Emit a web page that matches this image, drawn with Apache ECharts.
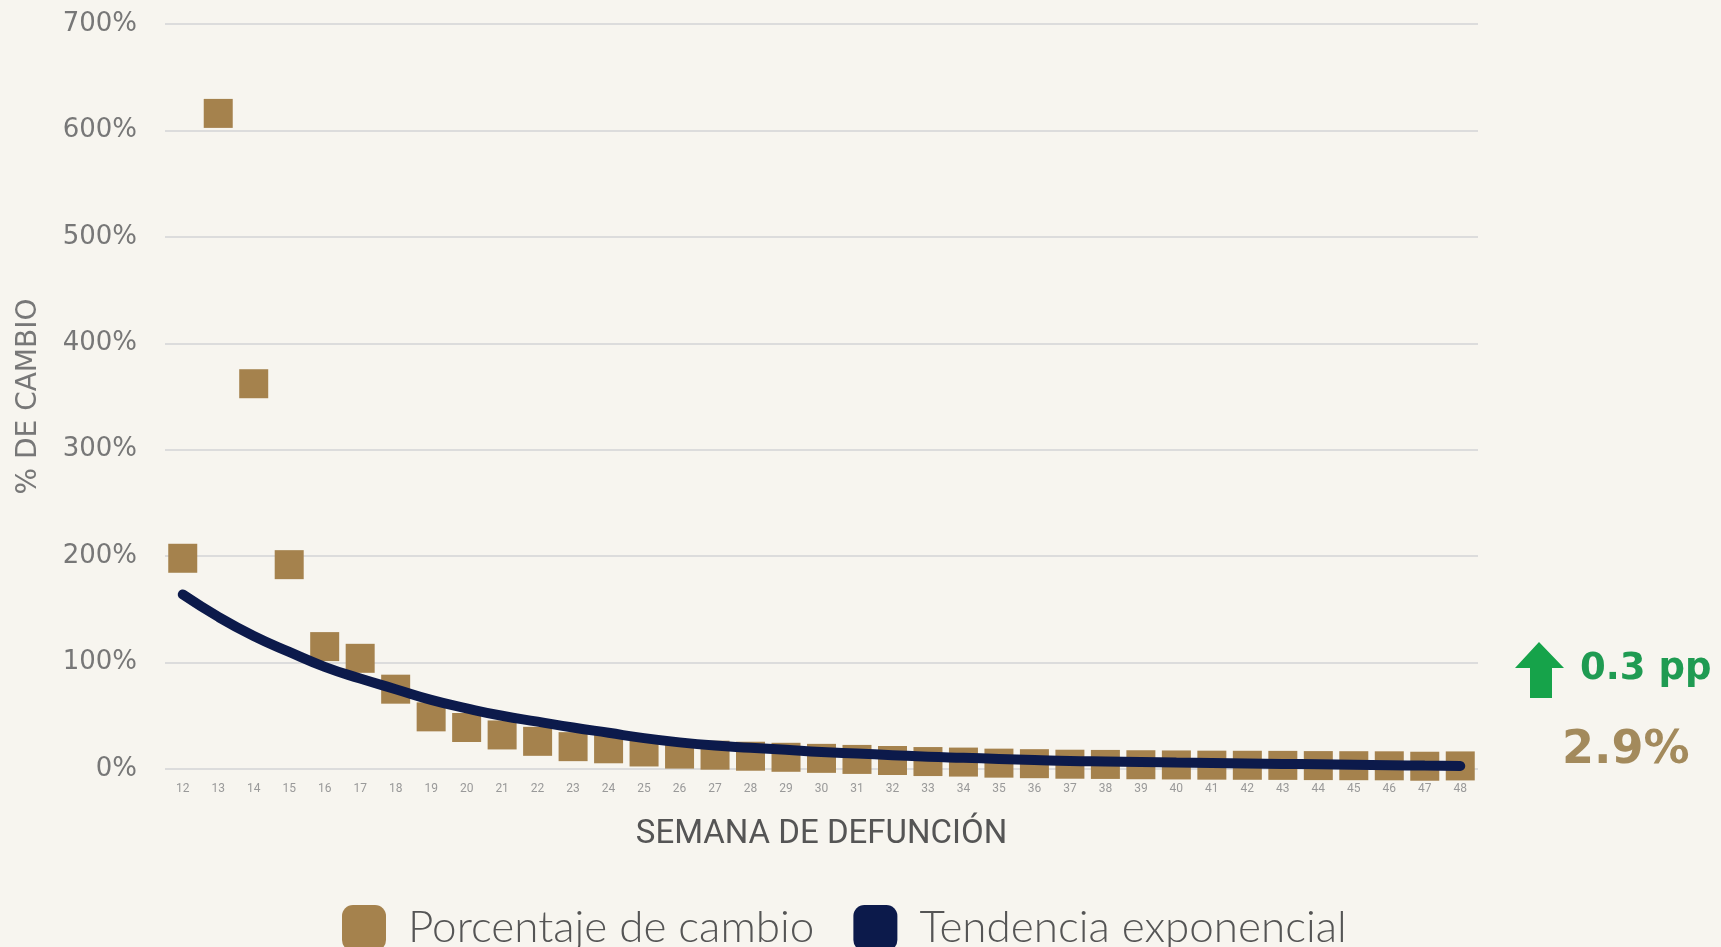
<!DOCTYPE html>
<html>
<head>
<meta charset="utf-8">
<script src="https://cdn.jsdelivr.net/npm/echarts@6/dist/echarts.min.js"></script>
<style>
html,body{margin:0;padding:0;background:#f7f5ef;}
#chart{width:1721px;height:947px;}
</style>
</head>
<body>
<div id="chart"></div>
<script>
var weeks = ['12','13','14','15','16','17','18','19','20','21','22','23','24','25','26','27','28','29','30','31','32','33','34','35','36','37','38','39','40','41','42','43','44','45','46','47','48'];
var cambio = [198,616,362,192,115,104,75,49,39,32,26,21,19,16,14,13,12,11,10,9,8,7,6.5,5.5,5,4.5,4.3,4,3.8,3.6,3.5,3.4,3.2,3.1,3.0,2.6,2.9];
var tendencia = [164,143,125,110,96,85,75,65,57,50,44.5,39,34,29,25,22,20,18,16,14.5,13,11.5,10.5,9.5,8.5,7.5,7,6.5,6,5.6,5.2,4.8,4.4,4,3.6,3.2,2.8];
var yTicks = [0,100,200,300,400,500,600,700];
var seriesNames = ['Porcentaje de cambio','Tendencia exponencial'];
var deltaText = '0.3 pp';
var lastText = '2.9%';

var chart = echarts.init(document.getElementById('chart'));
chart.setOption({
  backgroundColor: '#f7f5ef',
  animation: false,
  grid: {left: 165, right: 243, top: 24, bottom: 178},
  legend: {
    left: 337, top: 900,
    icon: 'roundRect',
    itemWidth: 44, itemHeight: 46, itemGap: 39,
    textStyle: {fontFamily: 'Lato', fontSize: 44, fontWeight: 300, color: '#555', padding: [0,0,0,17]},
    data: seriesNames
  },
  xAxis: {
    type: 'category',
    data: weeks,
    name: 'SEMANA DE DEFUNCIÓN',
    nameLocation: 'middle',
    nameGap: 49,
    nameTextStyle: {fontFamily: 'Roboto', fontSize: 33, color: '#555'},
    axisLine: {show: false},
    axisTick: {show: false},
    axisLabel: {interval: 0, fontFamily: 'Roboto', fontSize: 12, color: '#999', margin: 14}
  },
  yAxis: {
    type: 'value',
    min: yTicks[0], max: yTicks[yTicks.length-1], interval: 100,
    name: '% DE CAMBIO',
    nameLocation: 'middle',
    nameGap: 122,
    nameRotate: 90,
    nameTextStyle: {fontFamily: 'DejaVu Sans', fontSize: 28, color: '#777'},
    axisLabel: {formatter: '{value}%', fontFamily: 'DejaVu Sans', fontSize: 26, color: '#777', margin: 28},
    splitLine: {lineStyle: {color: '#dcdcdc', width: 2}},
    axisLine: {show: false},
    axisTick: {show: false}
  },
  series: [
    {
      name: seriesNames[0],
      type: 'scatter',
      symbol: 'rect',
      symbolSize: 29,
      itemStyle: {color: '#a5824d', opacity: 1},
      data: cambio,
      z: 2
    },
    {
      name: seriesNames[1],
      type: 'line',
      smooth: true,
      showSymbol: false,
      lineStyle: {color: '#0c1a4b', width: 10, cap: 'round'},
      itemStyle: {color: '#0c1a4b'},
      data: tendencia,
      z: 3
    }
  ],
  graphic: [
    {
      type: 'polygon',
      shape: {points: [[1539,642],[1564,668],[1552,668],[1552,698],[1530,698],[1530,668],[1515,668]]},
      style: {fill: '#16a34a'}
    },
    {
      type: 'text', left: 1580, top: 651,
      style: {text: deltaText, fontFamily: 'DejaVu Sans', fontWeight: 'bold', fontSize: 37, fill: '#1f9b52'}
    },
    {
      type: 'text', left: 1562, top: 728,
      style: {text: lastText, fontFamily: 'DejaVu Sans', fontWeight: 'bold', fontSize: 46, fill: '#a38a5c'}
    }
  ]
});
</script>
</body>
</html>
